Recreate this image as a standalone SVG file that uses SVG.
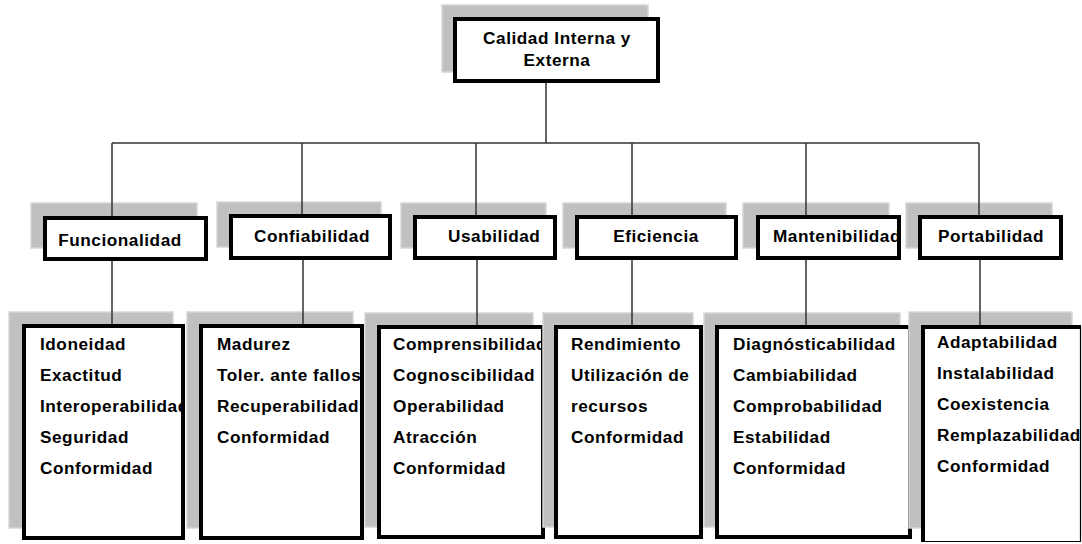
<svg xmlns="http://www.w3.org/2000/svg" width="1082" height="544" viewBox="0 0 1082 544">
<style>
.sh{fill:#c0c0c0;stroke:#d6d6d6;stroke-width:1.5}
.bx{fill:#fff;stroke:#000;stroke-width:4}
.bf{fill:#fff}
.t{font-family:"Liberation Sans",Arial,sans-serif;font-weight:bold;font-size:17.2px;letter-spacing:0.55px;fill:#000}
.c{text-anchor:middle}
.ln{stroke:#333;stroke-width:1.5;fill:none}
</style>
<defs>
<clipPath id="cM2"><rect x="756" y="215" width="145" height="45"/></clipPath>
<clipPath id="cF3"><rect x="22" y="324" width="163" height="216"/></clipPath>
<clipPath id="cC3"><rect x="199" y="324" width="165" height="216"/></clipPath>
<clipPath id="cU3"><rect x="377" y="325" width="168" height="214"/></clipPath>
<clipPath id="cE3"><rect x="554" y="325" width="149" height="214"/></clipPath>
<clipPath id="cM3"><rect x="715" y="325" width="197" height="214"/></clipPath>
<clipPath id="cP3"><rect x="921" y="325" width="159" height="217"/></clipPath>
</defs>
<rect width="1082" height="544" fill="#fff"/>
<g id="nodes">
<g id="root">
<rect class="sh" x="442" y="5" width="206" height="67"/>
<rect class="bx" x="455" y="19" width="203" height="62"/>
<text class="t c" x="557" y="44">Calidad Interna y</text>
<text class="t c" x="557" y="66">Externa</text>
</g>
<g id="funcionalidad">
<rect class="sh" x="31" y="203" width="166" height="45"/>
<rect class="bx" x="45" y="218" width="161" height="41"/>
<text class="t c" x="120" y="246">Funcionalidad</text>
</g>
<g id="confiabilidad">
<rect class="sh" x="217" y="202" width="164" height="45"/>
<rect class="bx" x="231" y="216" width="159" height="42"/>
<text class="t c" x="312" y="242">Confiabilidad</text>
</g>
<g id="usabilidad">
<rect class="sh" x="401" y="203" width="145" height="45"/>
<rect class="bx" x="415" y="217" width="140" height="41"/>
<text class="t" x="448" y="242">Usabilidad</text>
</g>
<g id="eficiencia">
<rect class="sh" x="563" y="203" width="163" height="45"/>
<rect class="bx" x="577" y="217" width="159" height="41"/>
<text class="t c" x="656" y="242">Eficiencia</text>
</g>
<g id="mantenibilidad">
<rect class="sh" x="743" y="203" width="146" height="45"/>
<rect class="bf" x="756" y="215" width="145" height="45"/>
<text class="t" x="773" y="242" clip-path="url(#cM2)">Mantenibilidad</text>
<rect class="bx" style="fill:none" x="758" y="217" width="141" height="41"/>
</g>
<g id="portabilidad">
<rect class="sh" x="906" y="203" width="146" height="45"/>
<rect class="bx" x="920" y="217" width="141" height="41"/>
<text class="t c" x="991" y="242">Portabilidad</text>
</g>
<g id="sub-funcionalidad">
<rect class="sh" x="9" y="312" width="164" height="216"/>
<rect class="bf" x="22" y="324" width="163" height="216"/>
<g clip-path="url(#cF3)">
<text class="t" x="40" y="350">Idoneidad</text>
<text class="t" x="40" y="381">Exactitud</text>
<text class="t" x="40" y="412">Interoperabilidad</text>
<text class="t" x="40" y="443">Seguridad</text>
<text class="t" x="40" y="474">Conformidad</text>
</g>
<rect class="bx" style="fill:none" x="24" y="326" width="159" height="212"/>
</g>
<g id="sub-confiabilidad">
<rect class="sh" x="187" y="312" width="166" height="216"/>
<rect class="bf" x="199" y="324" width="165" height="216"/>
<g clip-path="url(#cC3)">
<text class="t" x="217" y="350">Madurez</text>
<text class="t" x="217" y="381">Toler. ante fallos</text>
<text class="t" x="217" y="412">Recuperabilidad</text>
<text class="t" x="217" y="443">Conformidad</text>
</g>
<rect class="bx" style="fill:none" x="201" y="326" width="161" height="212"/>
</g>
<g id="sub-usabilidad">
<rect class="sh" x="365" y="313" width="168" height="214"/>
<rect class="bf" x="377" y="325" width="168" height="214"/>
<g clip-path="url(#cU3)">
<text class="t" x="393" y="350">Comprensibilidad</text>
<text class="t" x="393" y="381">Cognoscibilidad</text>
<text class="t" x="393" y="412">Operabilidad</text>
<text class="t" x="393" y="443">Atracción</text>
<text class="t" x="393" y="474">Conformidad</text>
</g>
<rect class="bx" style="fill:none" x="379" y="327" width="164" height="210"/>
</g>
<g id="sub-eficiencia">
<rect class="sh" x="543" y="313" width="150" height="214"/>
<rect class="bf" x="554" y="325" width="149" height="214"/>
<g clip-path="url(#cE3)">
<text class="t" x="571" y="350">Rendimiento</text>
<text class="t" x="571" y="381">Utilización de</text>
<text class="t" x="571" y="412">recursos</text>
<text class="t" x="571" y="443">Conformidad</text>
</g>
<rect class="bx" style="fill:none" x="556" y="327" width="145" height="210"/>
</g>
<g id="sub-mantenibilidad">
<rect class="sh" x="704" y="313" width="196" height="214"/>
<rect class="bf" x="715" y="325" width="197" height="214"/>
<g clip-path="url(#cM3)">
<text class="t" x="733" y="350">Diagnósticabilidad</text>
<text class="t" x="733" y="381">Cambiabilidad</text>
<text class="t" x="733" y="412">Comprobabilidad</text>
<text class="t" x="733" y="443">Estabilidad</text>
<text class="t" x="733" y="474">Conformidad</text>
</g>
<rect class="bx" style="fill:none" x="717" y="327" width="193" height="210"/>
</g>
<g id="sub-portabilidad">
<rect class="sh" x="909" y="312" width="163" height="216"/>
<rect class="bf" x="921" y="325" width="159" height="217"/>
<g clip-path="url(#cP3)">
<text class="t" x="937" y="348">Adaptabilidad</text>
<text class="t" x="937" y="379">Instalabilidad</text>
<text class="t" x="937" y="410">Coexistencia</text>
<text class="t" x="937" y="441">Remplazabilidad</text>
<text class="t" x="937" y="472">Conformidad</text>
</g>
<path d="M1080.5 327 V541.5 H923" stroke="#000" stroke-width="1.2" fill="none"/>
<path d="M923 542 V327 H1081" stroke="#000" stroke-width="4" fill="none"/>
</g>
</g>
<g id="connectors">
<path class="ln" d="M546 83 V143 M112 143 H979 M112 143 V216 M302 143 V214 M476 143 V215 M632 143 V215 M806 143 V215 M979 143 V215"/>
<path class="ln" d="M112 261 V324 M303 260 V324 M477 260 V325 M632 260 V325 M806 260 V325 M980 260 V325"/>
</g>
</svg>
